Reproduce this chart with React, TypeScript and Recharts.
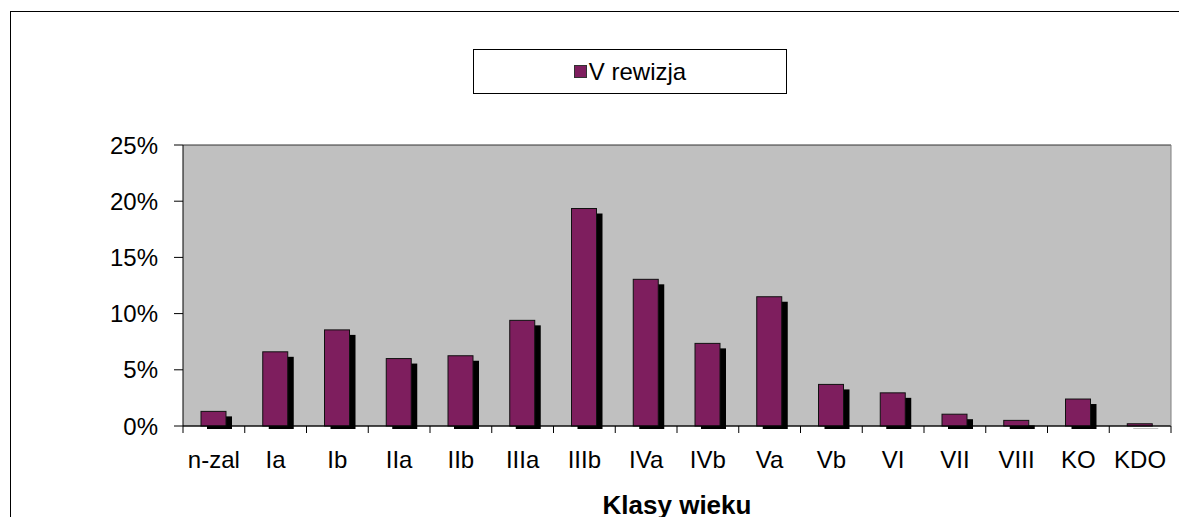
import React, { useLayoutEffect } from 'react';
import { BarChart, Bar, XAxis, YAxis, CartesianGrid, Legend } from 'recharts';

const categories = ['n-zal', 'Ia', 'Ib', 'IIa', 'IIb', 'IIIa', 'IIIb', 'IVa', 'IVb', 'Va', 'Vb', 'VI', 'VII', 'VIII', 'KO', 'KDO'];
const values = [1.3, 6.6, 8.55, 6.0, 6.25, 9.4, 19.35, 13.05, 7.35, 11.5, 3.7, 2.95, 1.05, 0.5, 2.4, 0.2];
const yTicks = [0, 5, 10, 15, 20, 25];
const seriesName = 'V rewizja';
const xTitle = 'Klasy wieku';

const data = categories.map((c, i) => ({ name: c, v: values[i] }));

const FONT = '"Liberation Sans", Arial, sans-serif';
const BAR_COLOR = '#7E1E5E';

const BarShape = (props: any) => {
  const { x, y, width, height } = props;
  if (height == null || width == null) return null;
  return (
    <g>
      <rect x={x + 6} y={y + 5} width={width} height={Math.max(height - 2, 0)} fill="#000" />
      <rect x={x} y={y} width={width} height={height} fill={BAR_COLOR} stroke="#111" strokeWidth={1} />
    </g>
  );
};

const XTick = (props: any) => {
  const { x, y, payload, index } = props;
  const off = payload.offset || 0;
  const axisY = y - 25;
  return (
    <g>
      <line x1={x - off} x2={x - off} y1={axisY} y2={axisY + 7} stroke="#000" strokeWidth={1} />
      {index === categories.length - 1 && (
        <line x1={x + off} x2={x + off} y1={axisY} y2={axisY + 7} stroke="#000" strokeWidth={1} />
      )}
      <text x={x} y={y} dy="0.71em" textAnchor="middle" fill="#000" fontSize={24} fontFamily={FONT}>
        {payload.value}
      </text>
    </g>
  );
};

const LegendBox = () => (
  <div
    style={{
      width: 312,
      height: 43,
      border: '1px solid #000',
      background: '#fff',
      display: 'flex',
      alignItems: 'center',
      justifyContent: 'center',
      fontFamily: FONT,
      fontSize: 24,
      color: '#000',
      boxSizing: 'content-box',
    }}
  >
    <span
      style={{
        display: 'inline-block',
        width: 11,
        height: 11,
        background: BAR_COLOR,
        border: '1px solid #333',
        marginRight: 2,
      }}
    />
    <span>{seriesName}</span>
  </div>
);

export default function App() {
  useLayoutEffect(() => {
    document.documentElement.style.overflow = 'hidden';
    document.body.style.overflow = 'hidden';
  }, []);
  return (
    <div
      style={{
        position: 'fixed',
        left: 0,
        top: 0,
        width: 1179,
        height: 517,
        overflow: 'hidden',
        background: '#fff',
      }}
    >
      <div
        style={{
          position: 'absolute',
          left: 10,
          top: 11,
          right: 0,
          bottom: 0,
          borderTop: '1px solid #000',
          borderLeft: '1px solid #000',
        }}
      />
      <div style={{ position: 'absolute', left: 8, top: 8 }}>
        <BarChart
          width={1171}
          height={509}
          data={data}
          margin={{ top: 137, right: 0, bottom: 31, left: 0 }}
          barCategoryGap={0}
        >
          <CartesianGrid vertical={false} stroke="#333" fill="#C0C0C0" fillOpacity={1} />
          <XAxis
            dataKey="name"
            height={60}
            tickLine={false}
            tickSize={0}
            tickMargin={25}
            interval={0}
            axisLine={{ stroke: '#000' }}
            tick={<XTick />}
            label={{
              value: xTitle,
              position: 'bottom',
              offset: 10,
              style: { fontFamily: FONT, fontSize: 26, fontWeight: 'bold', fill: '#000' },
            }}
          />
          <YAxis
            yAxisId="l"
            width={175}
            domain={[0, 25]}
            ticks={yTicks}
            interval={0}
            tickFormatter={(v: number) => `${v}%`}
            tickSize={9}
            tickMargin={16}
            tickLine={{ stroke: '#000' }}
            axisLine={{ stroke: '#000' }}
            tick={{ fill: '#000', fontSize: 24, fontFamily: FONT }}
          />
          <YAxis
            yAxisId="r"
            orientation="right"
            width={8}
            domain={[0, 25]}
            ticks={yTicks}
            tick={false}
            tickLine={false}
            axisLine={{ stroke: '#808080' }}
          />
          <Legend
            layout="vertical"
            verticalAlign="middle"
            align="center"
            wrapperStyle={{ position: 'absolute', left: 465, top: 41, width: 314, height: 45 }}
            content={() => <LegendBox />}
          />
          <Bar
            yAxisId="l"
            dataKey="v"
            name={seriesName}
            barSize={25}
            fill={BAR_COLOR}
            shape={<BarShape />}
            isAnimationActive={false}
          />
        </BarChart>
      </div>
    </div>
  );
}
